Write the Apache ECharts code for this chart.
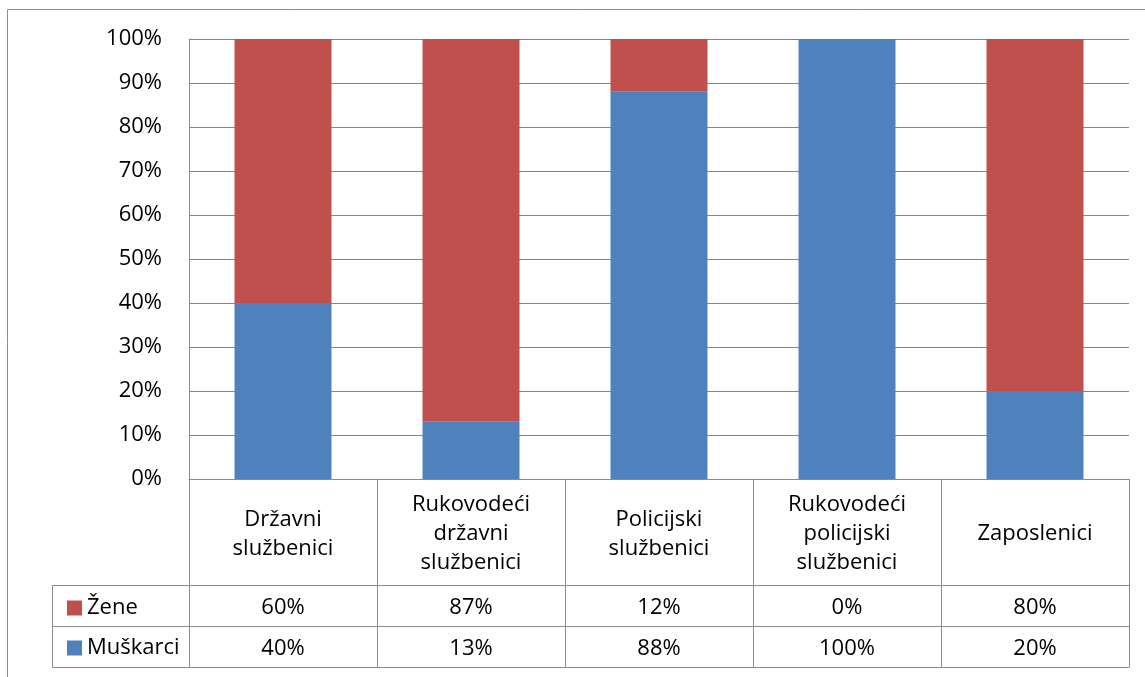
<!DOCTYPE html>
<html>
<head>
<meta charset="utf-8">
<script src="https://cdn.jsdelivr.net/npm/echarts@6/dist/echarts.min.js"></script>
<style>
html,body{margin:0;padding:0;background:#fff;}
#chart{width:1145px;height:677px;}
</style>
</head>
<body>
<div id="chart"></div>
<script>
const categories = ['Državni\nslužbenici', 'Rukovodeći\ndržavni\nslužbenici', 'Policijski\nslužbenici', 'Rukovodeći\npolicijski\nslužbenici', 'Zaposlenici'];
const zene = [60, 87, 12, 0, 80];
const muskarci = [40, 13, 88, 100, 20];
const yTicks = [0, 10, 20, 30, 40, 50, 60, 70, 80, 90, 100];

const FONT = 'Open Sans';
const FS = 22;
const GRAY = '#8a8a8a';
const chart = echarts.init(document.getElementById('chart'), null, {renderer: 'canvas'});

function tableAxis(offset, arr, showLabel) {
  return {
    type: 'category', data: categories, position: 'bottom', offset: offset,
    axisLine: {show: true, lineStyle: {color: GRAY, width: 1}},
    axisTick: {show: false},
    axisLabel: {show: showLabel, margin: 23, verticalAlign: 'middle', color: '#000',
      fontFamily: FONT, fontSize: FS, interval: 0,
      formatter: function (v, i) { return arr ? arr[i] + '%' : ''; }},
    splitLine: {show: false}
  };
}

const option = {
  backgroundColor: '#fff',
  animation: false,
  textStyle: {fontFamily: FONT},
  grid: {left: 189, right: 16, top: 39, bottom: 198, containLabel: false},
  legend: {
    orient: 'vertical', left: 62, top: 592,
    data: ['Žene', 'Muškarci'],
    icon: 'rect', itemWidth: 15, itemHeight: 15, itemGap: 18,
    textStyle: {fontFamily: FONT, fontSize: FS, color: '#000', padding: [0, 0, 0, 0]},
    selectedMode: false
  },
  xAxis: [
    {
      type: 'category', data: categories, position: 'bottom',
      axisLine: {show: true, lineStyle: {color: GRAY, width: 1}},
      axisTick: {show: true, length: 188, lineStyle: {color: GRAY, width: 1}},
      axisLabel: {interval: 0, margin: 55, verticalAlign: 'middle', color: '#000',
        fontFamily: FONT, fontSize: FS, lineHeight: 29, align: 'center'},
      splitLine: {show: false}
    },
    tableAxis(106, zene, true),
    tableAxis(147, muskarci, true),
    tableAxis(188, null, false)
  ],
  yAxis: {
    type: 'value', min: 0, max: 100, interval: 10,
    axisLine: {show: true, lineStyle: {color: GRAY, width: 1}},
    axisTick: {show: false},
    axisLabel: {formatter: '{value}%', margin: 27, color: '#000', fontFamily: FONT, fontSize: FS},
    splitLine: {show: true, lineStyle: {color: '#868686', width: 1}}
  },
  series: [
    {name: 'Muškarci', type: 'bar', stack: 'total', data: muskarci, barWidth: 97,
      itemStyle: {color: '#4F81BD'}},
    {name: 'Žene', type: 'bar', stack: 'total', data: zene, barWidth: 97,
      itemStyle: {color: '#C0504D'}}
  ],
  color: ['#4F81BD', '#C0504D']
};
chart.setOption(option);

// table left column frame and outer border
const yRow1 = 479 + 106, yRow2 = 479 + 147, yRow3 = 479 + 188;
const lc = {stroke: GRAY, lineWidth: 1};
chart.setOption({
  graphic: [
    {type: 'rect', shape: {x: 7.5, y: 9.5, width: 1200, height: 700}, style: {fill: null, stroke: '#8c8c8c', lineWidth: 1}, silent: true, z: -1},
    {type: 'line', shape: {x1: 52.5, y1: yRow1 + 0.5, x2: 189, y2: yRow1 + 0.5}, style: lc},
    {type: 'line', shape: {x1: 52.5, y1: yRow2 + 0.5, x2: 189, y2: yRow2 + 0.5}, style: lc},
    {type: 'line', shape: {x1: 52.5, y1: yRow3 + 0.5, x2: 189, y2: yRow3 + 0.5}, style: lc},
    {type: 'line', shape: {x1: 52.5, y1: yRow1 + 0.5, x2: 52.5, y2: yRow3 + 0.5}, style: lc}
  ]
});
</script>
</body>
</html>
